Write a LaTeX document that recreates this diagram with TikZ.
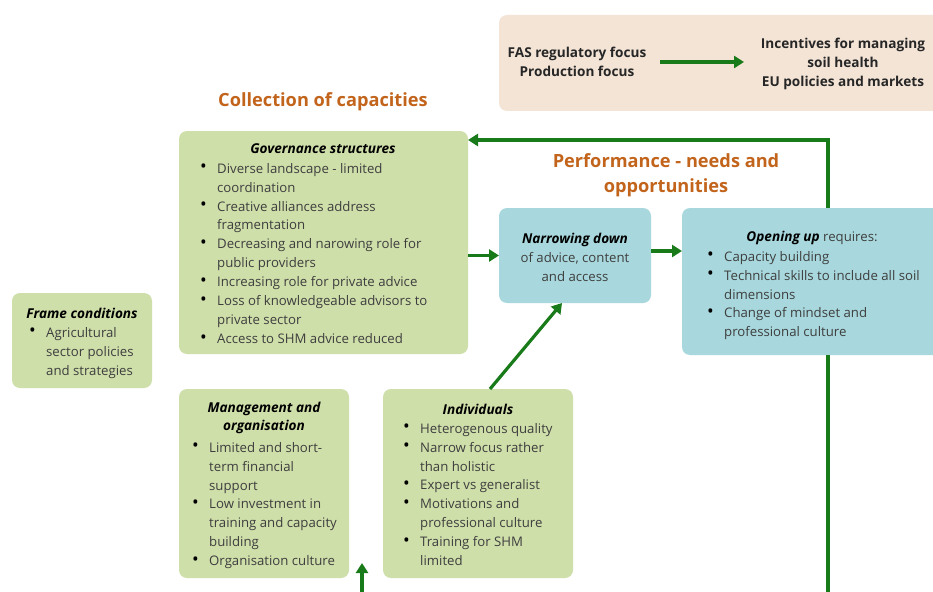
\documentclass[tikz,border=0pt]{standalone}
\usepackage{fontspec}
\usepackage{graphicx}
\setmainfont{Open Sans}
\usetikzlibrary{arrows.meta}
\definecolor{boxgreen}{RGB}{207,223,170}
\definecolor{boxblue}{RGB}{168,216,221}
\definecolor{boxbeige}{RGB}{243,228,214}
\definecolor{headorange}{RGB}{194,100,27}
\definecolor{arrgreen}{RGB}{24,122,24}
\definecolor{bodytext}{RGB}{62,62,62}
\newcommand\bul{\makebox[16pt][l]{\hspace*{-1pt}\raisebox{0.3pt}{\scalebox{1.35}{\textcolor{black}{\textbullet}}}}}
\newcommand\ind{\hspace*{16pt}}
\begin{document}
\begin{tikzpicture}[x=1pt,y=-1pt,
  box/.style={rounded corners=8pt, draw=none, inner sep=0pt, outer sep=0pt, anchor=north west},
  gbox/.style={box, fill=boxgreen},
  bbox/.style={box, fill=boxblue},
  ebox/.style={box, fill=boxbeige},
  body/.style={inner sep=0pt, align=left, anchor=north west, text=bodytext, font=\fontsize{13.2}{18.9}\selectfont},
  ctext/.style={inner sep=0pt, align=center, text=bodytext, font=\fontsize{13.2}{18.9}\selectfont},
  btitle/.style={inner sep=0pt, align=center, text=black, font=\fontsize{13.6}{18.9}\selectfont\bfseries\itshape},
  toptext/.style={inner sep=0pt, align=center, text=black!85, font=\fontsize{13.6}{18.9}\selectfont\bfseries},
  head/.style={inner sep=0pt, align=center, text=headorange, font=\fontsize{18.2}{25}\selectfont\bfseries},
  conn/.style={draw=arrgreen, line width=3.2pt},
  arr/.style={conn, -{Triangle[length=10pt,width=12pt]}}
]
\useasboundingbox (0,0) rectangle (933,591);
\clip (0,0) rectangle (933,591);
\fill[white] (0,0) rectangle (933,591);

% top-right box
\node[ebox, minimum width=450, minimum height=96] (top) at (499,15) {};
\node[toptext] (fas) at (577,62) {FAS regulatory focus\\Production focus};
\node[toptext] (inc) at (843,64) {Incentives for managing\\soil health\\EU policies and markets};
\coordinate (ta0) at (660,62);
\coordinate (ta1) at (744,62);
\draw[arr] (ta0) -- (ta1);

% headings
\node[head] (hcoll) at (323,102) {Collection of capacities};
\node[head] (hperf) at (666,175) {Performance - needs and\\opportunities};

% governance
\node[gbox, minimum width=289, minimum height=223] (gov) at (179,131) {};
\node[btitle] (govt) at (323,149) {Governance structures};
\node[body] (govl) at (201,163) {\bul Diverse landscape - limited\\\ind coordination\\
\bul Creative alliances address\\\ind fragmentation\\
\bul Decreasing and narowing role for\\\ind public providers\\
\bul Increasing role for private advice\\
\bul Loss of knowledgeable advisors to\\\ind private sector\\
\bul Access to SHM advice reduced};

% frame conditions
\node[gbox, minimum width=140, minimum height=95] (frame) at (12,293) {};
\node[btitle] (framet) at (82,313) {Frame conditions};
\node[body] (framel) at (30,327) {\bul Agricultural\\\ind sector policies\\\ind and strategies};

% management
\node[gbox, minimum width=170, minimum height=189] (man) at (179,389) {};
\node[btitle] (mant) at (264,418) {Management and\\organisation};
\node[body] (manl) at (193,442) {\bul Limited and short-\\\ind term financial\\\ind support\\
\bul Low investment in\\\ind training and capacity\\\ind building\\
\bul Organisation culture};

% individuals
\node[gbox, minimum width=190, minimum height=189] (indiv) at (383,389) {};
\node[btitle] (indivt) at (478,409) {Individuals};
\node[body] (indivl) at (404,423) {\bul Heterogenous quality\\
\bul Narrow focus rather\\\ind than holistic\\
\bul Expert vs generalist\\
\bul Motivations and\\\ind professional culture\\
\bul Training for SHM\\\ind limited};

% narrowing down
\node[bbox, minimum width=152, minimum height=95] (nar) at (499,208) {};
\node[ctext] (nart) at (575,257) {\textcolor{black}{\fontsize{13.6}{18.9}\selectfont\bfseries\itshape Narrowing down}\\of advice, content\\and access};

% opening up
\node[bbox, minimum width=270, minimum height=147] (open) at (682,208) {};
\node[ctext] (opent) at (812,238) {\textcolor{black}{\fontsize{13.6}{18.9}\selectfont\bfseries\itshape Opening up} requires:};
\node[body] (openl) at (708,251) {\bul Capacity building\\
\bul Technical skills to include all soil\\\ind dimensions\\
\bul Change of mindset and\\\ind professional culture};

% connectors
\coordinate (fb) at (828,140);
\coordinate (bot) at (828,595);
\coordinate (up0) at (362,595);
\coordinate (up1) at (362,563);
\draw[arr] (gov.east |- nar.west) -- (nar.west);
\draw[arr] (nar.east |- 0,251) -- (open.west |- 0,251);
\draw[arr] ([xshift=12pt]indiv.north) -- ([xshift=-13pt]nar.south);
\draw[arr] (fb |- open.north) -- (fb) -- (fb -| gov.east);
\draw[conn] (bot |- open.south) -- (bot);
\draw[arr] (up0) -- (up1);
\end{tikzpicture}
\end{document}
